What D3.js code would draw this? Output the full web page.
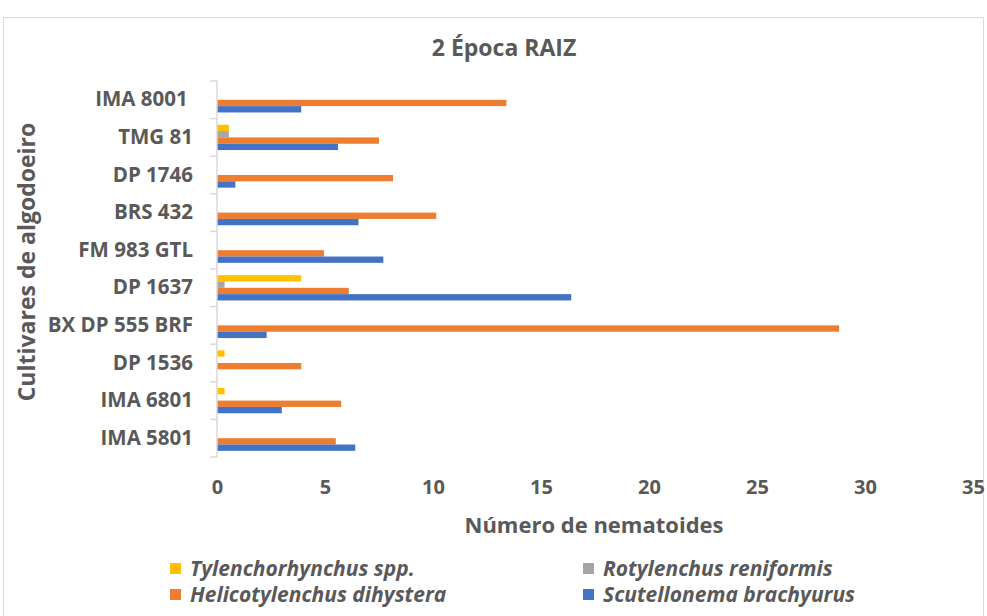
<!DOCTYPE html>
<html>
<head>
<meta charset="utf-8">
<script src="https://cdn.jsdelivr.net/npm/d3@7"></script>
<style>
  body { margin: 0; background: #fff; }
  text { font-family: "Open Sans", sans-serif; fill: #595959; }
</style>
</head>
<body>
<div id="chart"></div>
<script>
// cultivars, top to bottom
let cultivars = ['IMA 8001 ', 'TMG 81', 'DP 1746', 'BRS 432', 'FM 983 GTL', 'DP 1637',
  'BX DP 555 BRF', 'DP 1536', 'IMA 6801', 'IMA 5801']

let seriesNames = ['Tylenchorhynchus spp.', 'Rotylenchus reniformis',
  'Helicotylenchus dihystera', 'Scutellonema brachyurus']
let seriesColors = ['#FFC000', '#A5A5A5', '#ED7D31', '#4472C4']

let tylenchorhynchus = [0, 0.55, 0, 0, 0, 3.9, 0, 0.35, 0.35, 0]
let rotylenchus      = [0, 0.55, 0, 0, 0, 0.35, 0, 0, 0, 0]
let helicotylenchus  = [13.4, 7.5, 8.15, 10.15, 4.95, 6.1, 28.8, 3.9, 5.75, 5.5]
let scutellonema     = [3.9, 5.6, 0.85, 6.55, 7.7, 16.4, 2.3, 0, 3.0, 6.4]

let xTicks = [0, 5, 10, 15, 20, 25, 30, 35]

let allSeries = [tylenchorhynchus, rotylenchus, helicotylenchus, scutellonema]

let width = 987, height = 616
let plot = { left: 217, right: 973, top: 81, bottom: 457 }

let svg = d3.select('#chart').append('svg')
  .attr('width', width)
  .attr('height', height)

// chart border
svg.append('rect')
  .attr('x', 3.5).attr('y', 17.5)
  .attr('width', 980).attr('height', 600)
  .attr('fill', 'none')
  .attr('stroke', '#d9d9d9')

svg.append('text')
  .attr('x', 504).attr('y', 56)
  .attr('text-anchor', 'middle')
  .attr('font-size', '23px')
  .attr('font-weight', 'bold')
  .text('2 Época RAIZ')

let xScale = d3.scaleLinear().domain([0, 35]).range([plot.left, plot.right])
let yScale = d3.scaleBand().domain(cultivars).range([plot.top, plot.bottom])
let subScale = d3.scaleBand().domain(seriesNames)
  .range([0, yScale.bandwidth()])
  .paddingOuter(0.97)

// bars
let groups = svg.append('g').attr('class', 'bars')
  .selectAll('g')
  .data(cultivars)
  .join('g')
  .attr('transform', d => `translate(0,${yScale(d)})`)

groups.selectAll('rect')
  .data((d, i) => seriesNames.map((s, k) => ({ s: s, k: k, v: allSeries[k][i] })))
  .join('rect')
  .attr('x', xScale(0))
  .attr('y', d => subScale(d.s))
  .attr('width', d => xScale(d.v) - xScale(0))
  .attr('height', subScale.bandwidth())
  .attr('fill', d => seriesColors[d.k])

// y axis
let yAxis = d3.axisLeft(yScale).tickSize(0).tickPadding(24)
let yAxisG = svg.append('g')
  .attr('transform', `translate(${plot.left},0)`)
  .call(yAxis)
yAxisG.select('.domain').remove()
yAxisG.selectAll('text')
  .attr('font-size', '20.5px')
  .attr('font-weight', 'bold')
  .style('white-space', 'pre')
  .attr('fill', '#595959')

// axis line and band ticks
let bounds = cultivars.map(c => yScale(c)).concat([plot.bottom])
svg.append('line')
  .attr('x1', plot.left).attr('x2', plot.left)
  .attr('y1', plot.top).attr('y2', plot.bottom)
  .attr('stroke', '#d9d9d9').attr('stroke-width', 1.5)
svg.append('g').selectAll('line')
  .data(bounds)
  .join('line')
  .attr('x1', plot.left - 7).attr('x2', plot.left)
  .attr('y1', d => d).attr('y2', d => d)
  .attr('stroke', '#d9d9d9').attr('stroke-width', 1.5)

// x axis labels (no line)
let xAxis = d3.axisBottom(xScale).tickValues(xTicks).tickSize(0).tickPadding(0)
let xAxisG = svg.append('g')
  .attr('transform', `translate(0,${plot.bottom + 23})`)
  .call(xAxis)
xAxisG.select('.domain').remove()
xAxisG.selectAll('text')
  .attr('font-size', '20px')
  .attr('font-weight', 'bold')
  .attr('fill', '#595959')
  .attr('dy', '0.71em')

svg.append('text')
  .attr('x', 594).attr('y', 533)
  .attr('text-anchor', 'middle')
  .attr('font-size', '22px')
  .attr('font-weight', 'bold')
  .text('Número de nematoides')

svg.append('text')
  .attr('transform', 'translate(35,262) rotate(-90)')
  .attr('text-anchor', 'middle')
  .attr('font-size', '23px')
  .attr('font-weight', 'bold')
  .text('Cultivares de algodoeiro')

// legend
let legendPos = [[170, 566], [583, 566], [170, 592], [583, 592]]
let legendOrder = [0, 1, 2, 3]
let legend = svg.append('g').selectAll('g')
  .data(legendOrder)
  .join('g')
  .attr('transform', (d, i) => `translate(${legendPos[i][0]},${legendPos[i][1]})`)
legend.append('rect')
  .attr('width', 11).attr('height', 11)
  .attr('y', -3)
  .attr('fill', d => seriesColors[d])
legend.append('text')
  .attr('x', 20).attr('y', 10)
  .attr('font-size', '21px')
  .attr('font-weight', 'bold')
  .attr('font-style', 'italic')
  .text(d => seriesNames[d])
</script>
</body>
</html>
